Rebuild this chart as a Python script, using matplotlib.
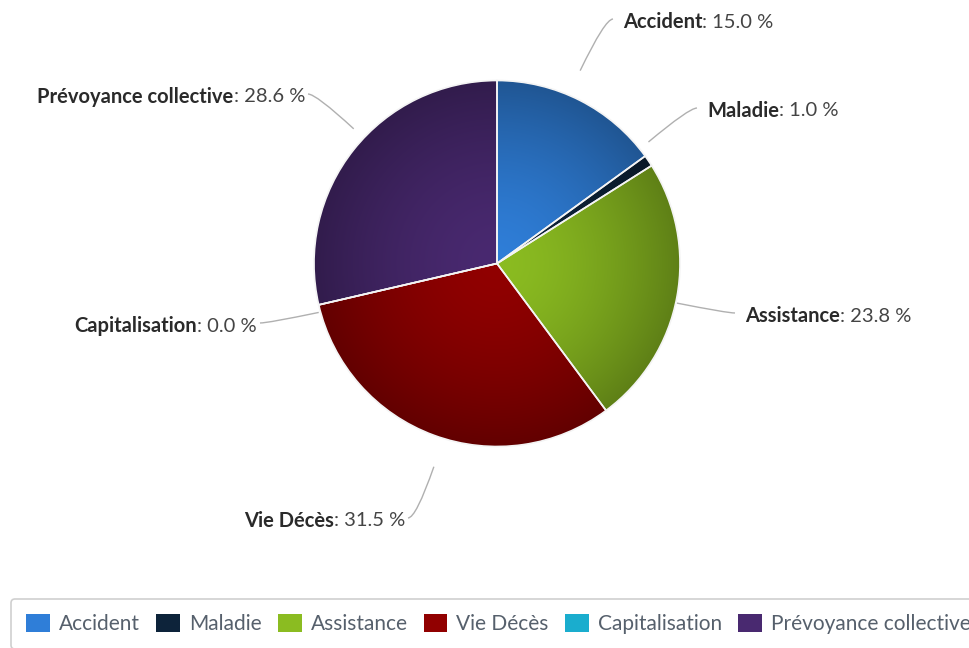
import matplotlib
matplotlib.use("Agg")
import matplotlib.pyplot as plt
import numpy as np
from matplotlib.patches import Patch
from matplotlib.path import Path
from matplotlib.patches import PathPatch
from matplotlib.colors import to_rgb

# Data
names = ["Accident", "Maladie", "Assistance", "Vie Décès", "Capitalisation", "Prévoyance collective"]
shares = [15.0, 1.0, 23.8, 31.5, 0.0, 28.6]
colors = ["#2f7ed8", "#0d233a", "#8bbc21", "#910000", "#1aadce", "#492970"]

# Where each label sits (pixel layout of the figure), and on which side
label_anchor = [(613, 19), (697, 108), (735, 313), (408, 518), (260, 323), (308, 94)]
label_side = ["right", "right", "right", "left", "left", "left"]

W, H = 970, 648
plt.rcParams['font.family'] = ['Lato', 'DejaVu Sans']
fig = plt.figure(figsize=(W / 100, H / 100), dpi=100)
fig.patch.set_facecolor("white")

# pie axes: slightly taller than wide, so the pie is an ellipse as in the picture
pie_box = (314, 47, 680, 480)
pax = fig.add_axes([pie_box[0] / W, 1 - pie_box[3] / H,
                    (pie_box[2] - pie_box[0]) / W, (pie_box[3] - pie_box[1]) / H])
wedges, _ = pax.pie(shares, colors=colors, startangle=90, counterclock=False,
                    radius=1.0, wedgeprops=dict(edgecolor="#f4f4f4", linewidth=1.2))
pax.set_aspect("auto")
pax.set_xlim(-1, 1)
pax.set_ylim(-1, 1)
pax.axis("off")

# soft radial shading inside each slice, lighter towards the middle
gx, gy = np.meshgrid(np.linspace(-1, 1, 400), np.linspace(-1, 1, 400))
rr = np.clip(np.sqrt(gx ** 2 + gy ** 2), 0, 1)[..., None] ** 1.6
for w, c in zip(wedges, colors):
    base = np.array(to_rgb(c))
    dark = base * 0.68
    img = base * (1 - rr) + dark * rr
    im = pax.imshow(img, extent=(-1, 1, -1, 1), origin="lower", zorder=1,
                    interpolation="bilinear")
    im.set_clip_path(w)
    w.set_facecolor("none")
    w.set_zorder(3)

# overlay axes in pixel coordinates for labels and connectors
ov = fig.add_axes([0, 0, 1, 1], zorder=5)
ov.set_xlim(0, W)
ov.set_ylim(H, 0)
ov.axis("off")
ov.patch.set_alpha(0)

renderer = fig.canvas.get_renderer()
fs = 14.5
for w, name, val, (ax_, ay_), side in zip(wedges, names, shares, label_anchor, label_side):
    mid = np.deg2rad((w.theta1 + w.theta2) / 2)
    px, py = pax.transData.transform((np.cos(mid), np.sin(mid)))
    py = H - py
    ctrl_x = ax_ - 8 if side == "right" else ax_ + 8
    path = Path([(px, py), (ctrl_x, ay_), (ax_, ay_)], [Path.MOVETO, Path.CURVE3, Path.CURVE3])
    ov.add_patch(PathPatch(path, facecolor="none", edgecolor="#b0b0b0", lw=1.0))

    ty = ay_ + 3
    if side == "right":
        t1 = ov.text(ax_ + 10, ty, name, fontsize=fs, fontweight="bold", color="#2a2a2a",
                     ha="left", va="center")
        bb = t1.get_window_extent(renderer)
        ov.annotate(f": {val:.1f} %", xy=(bb.x1, H - ty), xycoords="figure pixels",
                    fontsize=fs, color="#444444", ha="left", va="center")
    else:
        t2 = ov.text(ax_ - 3, ty, f": {val:.1f} %", fontsize=fs, color="#444444",
                     ha="right", va="center")
        bb = t2.get_window_extent(renderer)
        ov.annotate(name, xy=(bb.x0, H - ty), xycoords="figure pixels",
                    fontsize=fs, fontweight="bold", color="#2a2a2a", ha="right", va="center")

# legend along the bottom
handles = [Patch(facecolor=c, edgecolor="none") for c in colors]
leg = fig.legend(handles, names, loc="upper left", bbox_to_anchor=(11 / W, 1 - 599 / H),
                 ncol=6, fontsize=15, frameon=True, fancybox=True, borderaxespad=0,
                 handlelength=1.15, handleheight=0.95, handletextpad=0.43,
                 columnspacing=0.77, borderpad=0.72, labelcolor="#56606c")
leg.get_frame().set_edgecolor("#c4c4c4")
leg.get_frame().set_linewidth(1.2)

fig.savefig("out.png", dpi=100)
